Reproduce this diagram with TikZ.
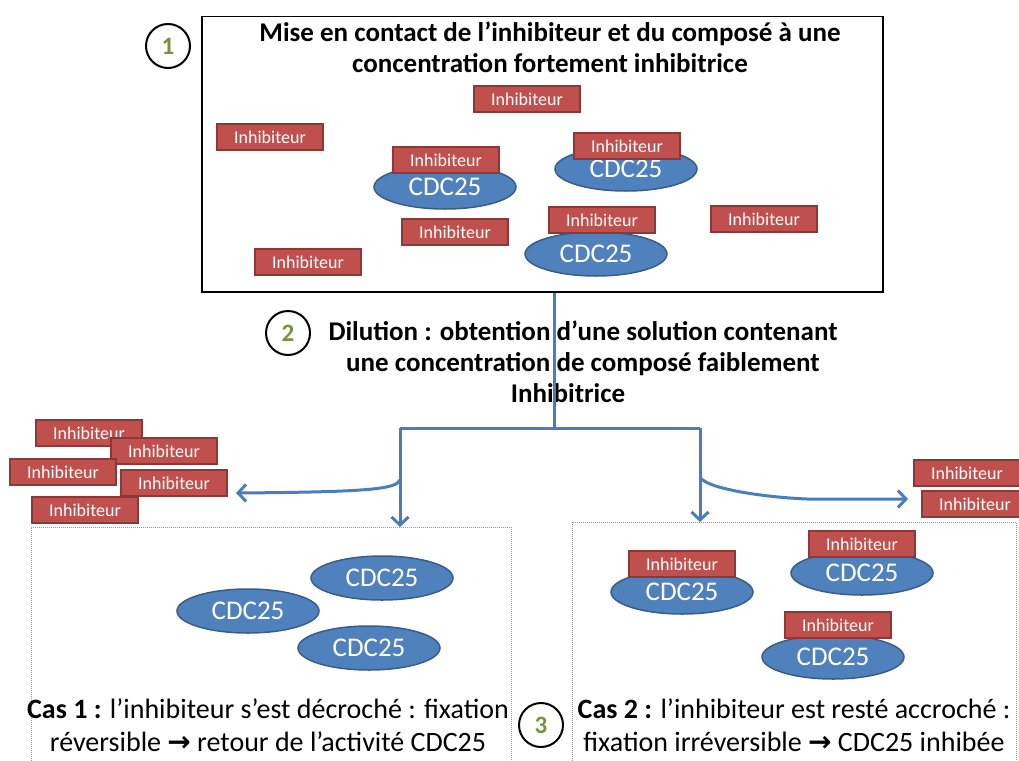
\documentclass[tikz,border=0pt]{standalone}
\usepackage{fontspec}
\setmainfont{Carlito}
\newfontfamily\dejavu{DejaVu Sans}
\usetikzlibrary{shapes.geometric,arrows.meta}
\definecolor{inhred}{HTML}{C0504D}
\definecolor{inhborder}{HTML}{8C3836}
\definecolor{cdcblue}{HTML}{4F81BD}
\definecolor{cdcborder}{HTML}{385D8A}
\definecolor{flowblue}{HTML}{4A7EBB}
\definecolor{numgreen}{HTML}{77933C}
\begin{document}
\begin{tikzpicture}[x=1pt,y=-1pt,
 inh/.style={rectangle,fill=inhred,draw=inhborder,line width=1.5pt,minimum width=106pt,minimum height=26pt,inner sep=0pt,text=white,font=\fontsize{18}{18}\selectfont},
 cdc/.style={ellipse,fill=cdcblue,draw=cdcborder,line width=1.5pt,minimum width=142pt,minimum height=44pt,inner sep=0pt,text=white,font=\fontsize{27}{27}\selectfont},
 num/.style={circle,draw=black,line width=2pt,minimum size=44pt,inner sep=0pt,text=numgreen,font=\bfseries\fontsize{25}{25}\selectfont},
 flow/.style={draw=flowblue,line width=3pt},
 tip/.style={-{Straight Barb[length=8pt,width=17pt,line width=3pt]}},
 casebox/.style={draw=gray!80,line width=0.8pt,dash pattern=on 1pt off 1pt},
 txt/.style={align=center,inner sep=0pt}
]
\useasboundingbox (0,0) rectangle (1019,760);
\begin{scope}
\clip (0,0) rectangle (1019,760);
% top box
\node[draw=black,line width=1.5pt,minimum width=681pt,minimum height=275pt,anchor=north west,inner sep=0pt] (top) at (201,16) {};
\node[txt,font=\bfseries\fontsize{27}{31}\selectfont] (title) at (550,47) {Mise en contact de l’inhibiteur et du composé à une\\ concentration fortement inhibitrice};
\node[num] (n1) at (168,46) {1};
\node[inh] (i1) at (527,99) {Inhibiteur};
\node[inh] (i2) at (270,137) {Inhibiteur};
\node[cdc] (c1) at (445,187) {CDC25};
\node[inh] (i3) at (446,160) {Inhibiteur};
\node[cdc] (c2) at (626,169) {CDC25};
\node[inh] (i4) at (627,146) {Inhibiteur};
\node[inh] (i5) at (455,232) {Inhibiteur};
\node[cdc] (c3) at (596,254) {CDC25};
\node[inh] (i6) at (602,220) {Inhibiteur};
\node[inh] (i7) at (764,219) {Inhibiteur};
\node[inh] (i8) at (308,262) {Inhibiteur};
% dilution
\node[txt,font=\bfseries\fontsize{27}{31}\selectfont] (dil) at (583,362) {Dilution : obtention d’une solution contenant\\ une concentration de composé faiblement\\ \hspace*{-30pt}Inhibitrice};
\node[num] (n2) at (288,333) {2};
% case boxes
\node[casebox,anchor=north west,minimum width=480pt,minimum height=245pt,inner sep=0pt] (case1) at (31,527) {};
\node[casebox,anchor=north west,minimum width=444pt,minimum height=250pt,inner sep=0pt] (case2) at (572,522) {};
% flow
\coordinate (split) at (554,428);
\coordinate (lsplit) at (400,428);
\coordinate (rsplit) at (700,428);
\coordinate (lbranch) at (400,480);
\coordinate (rbranch) at (700,477);
\coordinate (lend) at (236,493);
\coordinate (rmid) at (807,499);
\coordinate (rend) at (908,499);
\draw[flow] (top.south -| split) -- (split);
\draw[flow] (lsplit) -- (rsplit);
\draw[flow,tip] (lsplit) -- (lsplit |- case1.north);
\draw[flow,tip] (rsplit) -- (rsplit |- case2.north);
\draw[flow,tip] (lbranch) .. controls (396,489) and (370,492) .. (lend);
\draw[flow,tip] (rbranch) .. controls (705,488) and (760,497) .. (rmid) -- (rend);
% free inhibitors
\node[inh] (a1) at (89,433) {Inhibiteur};
\node[inh] (a2) at (164,451) {Inhibiteur};
\node[inh] (a3) at (63,472) {Inhibiteur};
\node[inh] (a4) at (174,483) {Inhibiteur};
\node[inh] (a5) at (85,510) {Inhibiteur};
\node[inh] (b1) at (967,473) {Inhibiteur};
\node[inh] (b2) at (975,504) {Inhibiteur};
% case 1
\node[cdc] (d1) at (382,578) {CDC25};
\node[cdc] (d2) at (248,611) {CDC25};
\node[cdc] (d3) at (369,648) {CDC25};
\node[txt,font=\fontsize{28}{33}\selectfont] (t1) at (268,725) {\textbf{Cas 1 :} l’inhibiteur s’est décroché : fixation\\ réversible {\dejavu\bfseries →} retour de l’activité CDC25};
% case 2
\node[cdc] (e1) at (682,592) {CDC25};
\node[inh] (f1) at (682,564) {Inhibiteur};
\node[cdc] (e2) at (862,573) {CDC25};
\node[inh] (f2) at (862,544) {Inhibiteur};
\node[cdc] (e3) at (833,657) {CDC25};
\node[inh] (f3) at (838,625) {Inhibiteur};
\node[num] (n3) at (541,725) {3};
\node[txt,font=\fontsize{28}{33}\selectfont] (t2) at (794,725) {\textbf{Cas 2 :} l’inhibiteur est resté accroché :\\ fixation irréversible {\dejavu\bfseries →} CDC25 inhibée};
\end{scope}
\end{tikzpicture}
\end{document}
